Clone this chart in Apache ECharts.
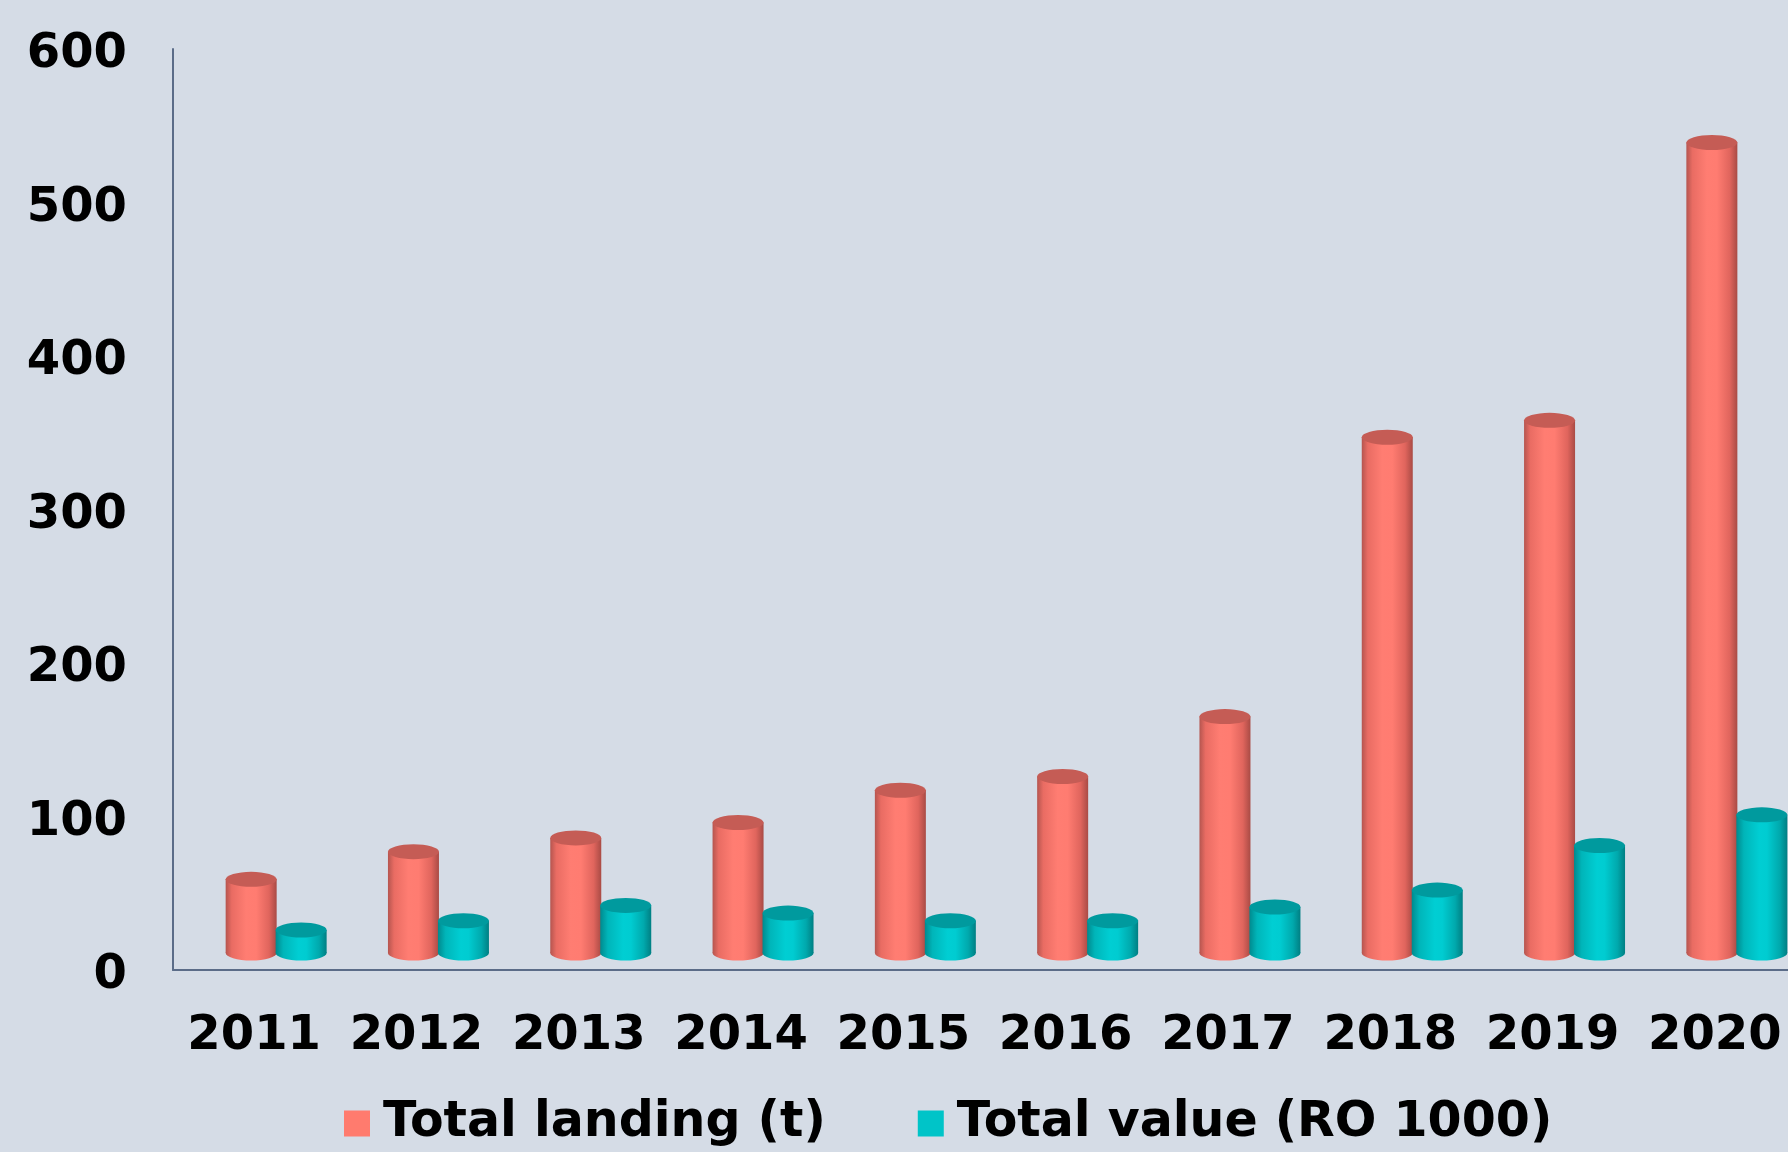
<!DOCTYPE html>
<html>
<head>
<meta charset="utf-8">
<script src="https://cdn.jsdelivr.net/npm/echarts@6/dist/echarts.min.js"></script>
<style>
html,body{margin:0;padding:0;background:#D5DCE6;}
#c{width:1788px;height:1152px;}
</style>
</head>
<body>
<div id="c"></div>
<script>
const categories = ['2011','2012','2013','2014','2015','2016','2017','2018','2019','2020'];
const totalLanding = [48, 66, 75, 85, 106, 115, 154, 336, 347, 528];
const totalValue = [15, 21, 31, 26, 21, 21, 30, 41, 70, 90];
const seriesNames = ['Total landing (t)', 'Total value (RO 1000)'];
const yMin = 0, yMax = 600, yStep = 100;

const FONT = 'DejaVu Sans';
const redSide = {type:'linear',x:0,y:0,x2:1,y2:0,colorStops:[
  {offset:0,color:'#B5554F'},{offset:0.12,color:'#E96C63'},{offset:0.4,color:'#FF7D72'},
  {offset:0.6,color:'#FF7C71'},{offset:0.85,color:'#E0655D'},{offset:1,color:'#A94B45'}]};
const tealSide = {type:'linear',x:0,y:0,x2:1,y2:0,colorStops:[
  {offset:0,color:'#008A8E'},{offset:0.15,color:'#00B5B9'},{offset:0.45,color:'#00CED3'},
  {offset:0.6,color:'#00CCD1'},{offset:0.85,color:'#00A9AD'},{offset:1,color:'#007F83'}]};
const redTop = '#C55C55';
const tealTop = '#009A9E';
const BW = 51, EH = 15;

const chart = echarts.init(document.getElementById('c'), null, {renderer:'canvas'});
const hiddenCat = (gi) => ({type:'category', gridIndex:gi, data:categories, show:false, boundaryGap:true});
const hiddenVal = (gi) => ({type:'value', gridIndex:gi, min:yMin, max:yMax, interval:yStep, show:false});

chart.setOption({
  backgroundColor:'#D5DCE6',
  animation:false,
  textStyle:{fontFamily:FONT},
  grid:[
    {left:173, top:49, width:1623, height:921, outerBoundsMode:'none', containLabel:false},
    {left:195, top:32, width:1623, height:921, outerBoundsMode:'none', containLabel:false},
    {left:173, top:55, width:1623, height:921, outerBoundsMode:'none', containLabel:false}
  ],
  xAxis:[
    {type:'category', gridIndex:0, data:categories, boundaryGap:true,
     axisLine:{show:true, lineStyle:{color:'#5B6C88', width:2}},
     axisTick:{show:false},
     axisLabel:{fontFamily:FONT, fontWeight:'bold', fontSize:48, color:'#000', margin:43, interval:0}},
    hiddenCat(1),
    hiddenCat(1),
    hiddenCat(2)
  ],
  yAxis:[
    {type:'value', gridIndex:0, min:yMin, max:yMax, interval:yStep,
     axisLine:{show:true, lineStyle:{color:'#5B6C88', width:2}},
     axisTick:{show:false},
     splitLine:{show:false},
     axisLabel:{show:false}},
    hiddenVal(1),
    {type:'value', gridIndex:2, min:yMin, max:yMax, interval:yStep,
     axisLine:{show:false}, axisTick:{show:false}, splitLine:{show:false},
     axisLabel:{fontFamily:FONT, fontWeight:'bold', fontSize:48, color:'#000', margin:46}}
  ],
  legend:{
    left:339, top:1094,
    icon:'rect', itemWidth:26, itemHeight:26, itemGap:92,
    textStyle:{fontFamily:FONT, fontWeight:'bold', fontSize:49, color:'#000', padding:[0,0,0,8]},
    data:[
      {name:seriesNames[0], itemStyle:{color:'#FF7B6E'}},
      {name:seriesNames[1], itemStyle:{color:'#00C4C8'}}
    ]
  },
  series:[
    {name:seriesNames[0], type:'bar', xAxisIndex:1, yAxisIndex:1, data:totalLanding,
     barWidth:BW, barGap:'-2%', itemStyle:{color:redSide}, z:2},
    {name:seriesNames[1], type:'bar', xAxisIndex:1, yAxisIndex:1, data:totalValue,
     barWidth:BW, barGap:'-2%', itemStyle:{color:tealSide}, z:4},
    {name:'landingTop', type:'pictorialBar', xAxisIndex:1, yAxisIndex:1, data:totalLanding,
     symbol:'circle', symbolSize:[BW, EH], symbolPosition:'end', symbolOffset:[0,'-50%'],
     barWidth:BW, barGap:'-2%', itemStyle:{color:redTop}, z:3},
    {name:'valueTop', type:'pictorialBar', xAxisIndex:1, yAxisIndex:1, data:totalValue,
     symbol:'circle', symbolSize:[BW, EH], symbolPosition:'end', symbolOffset:[0,'-50%'],
     barWidth:BW, barGap:'-2%', itemStyle:{color:tealTop}, z:5},
    {name:'landingBottom', type:'pictorialBar', xAxisIndex:2, yAxisIndex:1, data:totalLanding,
     symbol:'circle', symbolSize:[BW, EH], symbolPosition:'start', symbolOffset:[0,'50%'],
     barWidth:BW, barGap:'-2%', itemStyle:{color:redSide}, z:2},
    {name:'valueBottom', type:'pictorialBar', xAxisIndex:2, yAxisIndex:1, data:totalValue,
     symbol:'circle', symbolSize:[BW, EH], symbolPosition:'start', symbolOffset:[0,'50%'],
     barWidth:BW, barGap:'-2%', itemStyle:{color:tealSide}, z:4}
  ]
});
</script>
</body>
</html>
